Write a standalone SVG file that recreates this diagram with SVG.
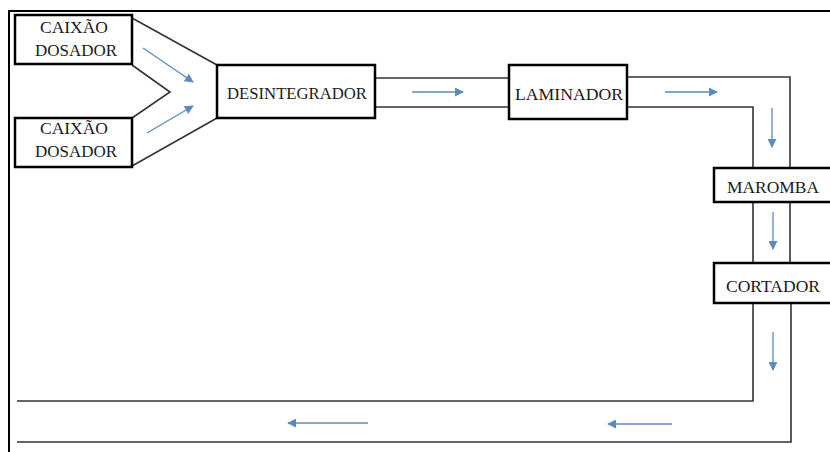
<svg xmlns="http://www.w3.org/2000/svg" width="830" height="452" viewBox="0 0 830 452">
<defs>
<marker id="ah" viewBox="0 0 10 10" refX="9" refY="5" markerWidth="9" markerHeight="9" markerUnits="userSpaceOnUse" orient="auto">
<path d="M0,0 L10,5 L0,10 z" fill="#5a8ac0"/>
</marker>
<style>
.box{fill:#fff;stroke:#000;stroke-width:2.5}
.t{font-family:'Liberation Serif','DejaVu Serif','Times New Roman',serif;font-size:17px;fill:#1a1a1a;text-anchor:middle}
.ch{fill:none;stroke:#333;stroke-width:1.6}
.ar{stroke:#5a8ac0;stroke-width:1.3;fill:none;marker-end:url(#ah)}
.frame{fill:none;stroke:#000;stroke-width:2}
</style>
</defs>
<rect width="830" height="452" fill="#fff"/>
<path class="frame" d="M9,452 V11 H830"/>
<g id="connectors">
<path class="ch" d="M132,18 L217,65 M132,65 L170,92 L132,118 M132,166 L217,118"/>
<path class="ch" d="M375,78 H509 M375,107 H509"/>
<path class="ch" d="M627,77 H790 V168 M627,107 H753 V168"/>
<path class="ch" d="M753,202 V263 M790,202 V263"/>
<path class="ch" d="M753,303 V401 H17 M791,303 V442 H17"/>
<line class="ar" x1="143" y1="48" x2="193" y2="82"/>
<line class="ar" x1="147" y1="133" x2="193" y2="106"/>
<line class="ar" x1="412" y1="92" x2="463" y2="92"/>
<line class="ar" x1="665" y1="92" x2="717" y2="92"/>
<line class="ar" x1="772" y1="108" x2="772" y2="147"/>
<line class="ar" x1="773" y1="212" x2="773" y2="249"/>
<line class="ar" x1="773" y1="332" x2="773" y2="370"/>
<line class="ar" x1="672" y1="424" x2="608" y2="424"/>
<line class="ar" x1="368" y1="423" x2="288" y2="423"/>
</g>
<g id="caixao1">
<rect class="box" x="15" y="15" width="117" height="49"/>
<text class="t" x="74" y="33" textLength="68" lengthAdjust="spacingAndGlyphs">CAIXÃO</text>
<text class="t" x="76" y="56" textLength="82" lengthAdjust="spacingAndGlyphs">DOSADOR</text>
</g>
<g id="caixao2">
<rect class="box" x="15" y="118" width="117" height="49"/>
<text class="t" x="74" y="134" textLength="68" lengthAdjust="spacingAndGlyphs">CAIXÃO</text>
<text class="t" x="76" y="157" textLength="82" lengthAdjust="spacingAndGlyphs">DOSADOR</text>
</g>
<g id="desintegrador">
<rect class="box" x="217" y="65" width="158" height="53"/>
<text class="t" x="297" y="99" textLength="140" lengthAdjust="spacingAndGlyphs">DESINTEGRADOR</text>
</g>
<g id="laminador">
<rect class="box" x="509" y="65" width="118" height="54"/>
<text class="t" x="569" y="100" textLength="108" lengthAdjust="spacingAndGlyphs">LAMINADOR</text>
</g>
<g id="maromba">
<rect class="box" x="714" y="168" width="122" height="34"/>
<text class="t" x="773" y="193" textLength="92" lengthAdjust="spacingAndGlyphs">MAROMBA</text>
</g>
<g id="cortador">
<rect class="box" x="714" y="263" width="122" height="40"/>
<text class="t" x="773" y="292" textLength="94" lengthAdjust="spacingAndGlyphs">CORTADOR</text>
</g>
</svg>
